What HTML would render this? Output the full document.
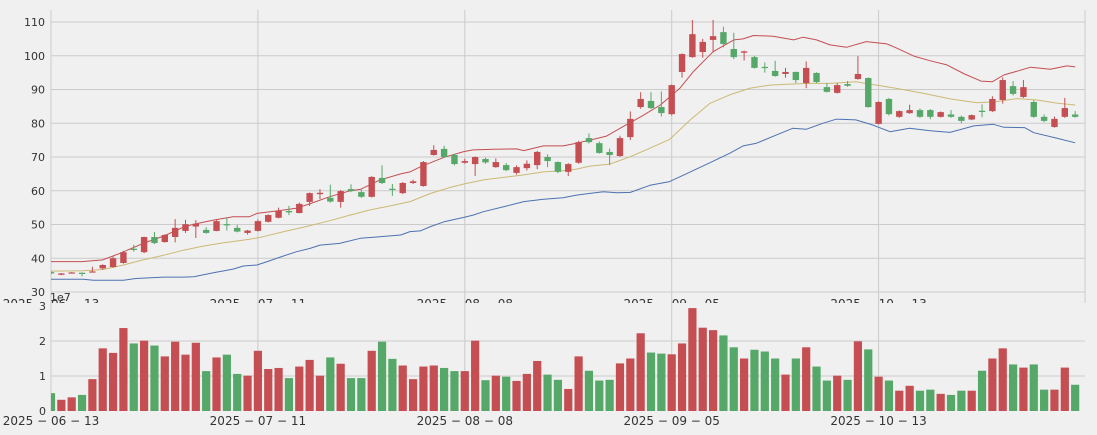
<!DOCTYPE html>
<html><head><meta charset="utf-8"><style>
html,body{margin:0;padding:0;background:#f0f0f0;}
svg{display:block;font-family:"DejaVu Sans","Liberation Sans",sans-serif;}
</style></head><body>
<svg id="chart" width="1097" height="435" viewBox="0 0 1097 435" xmlns="http://www.w3.org/2000/svg">
<rect x="0" y="0" width="1097" height="435" fill="#f0f0f0"/>
<defs>
<clipPath id="pc"><rect x="51" y="10" width="1034" height="282"/></clipPath>
<clipPath id="vc"><rect x="51" y="300" width="1034" height="111"/></clipPath>
</defs>
<g id="price-grid"></g>
<g id="price-plot" clip-path="url(#pc)"></g>
<g id="price-labels"></g>
<rect x="0" y="303" width="1097" height="132" fill="#f0f0f0"/>
<g id="vol-grid"></g>
<g id="vol-plot" clip-path="url(#vc)"></g>
<g id="vol-labels"></g>
</svg>
<script>
const dateLabels = ["2025 − 06 − 13","2025 − 07 − 11","2025 − 08 − 08","2025 − 09 − 05","2025 − 10 − 13"];
const dateTickIdx = [0,20,40,60,80];
const priceTicks = [30,40,50,60,70,80,90,100,110];
const volTicks = [0,1,2,3];
const opens = [35.9,35.1,35.6,35.7,35.9,37.0,37.4,38.6,42.8,41.8,46.3,44.8,46.3,48.1,49.4,48.4,48.1,50.1,49.0,47.5,48.1,50.8,52.0,54.0,53.4,56.7,59.0,57.9,56.7,60.5,59.6,58.2,63.8,60.6,59.3,62.3,61.4,70.6,72.4,70.6,68.3,67.9,69.4,67.0,67.6,65.3,66.7,67.6,70.0,68.5,65.6,68.3,75.6,74.1,71.5,70.3,75.9,84.8,86.6,84.8,82.7,95.2,99.6,101.1,104.7,107.0,102.0,100.9,99.6,96.7,95.5,94.6,95.2,91.9,94.9,90.7,89.0,91.6,93.1,93.4,79.8,87.2,81.9,83.0,83.9,83.9,81.9,82.6,81.9,81.1,83.7,83.6,86.9,91.0,87.8,86.3,81.9,78.9,81.9,82.6];
const closes = [35.5,35.5,35.8,35.6,36.1,38.0,40.0,41.8,42.6,46.3,44.5,46.9,49.0,50.1,50.2,47.5,51.0,50.0,47.9,48.2,51.0,52.8,54.0,53.6,56.1,59.3,59.4,56.8,59.9,59.9,58.2,64.1,62.3,60.4,62.3,62.8,68.5,72.1,70.0,67.9,68.8,70.0,68.4,68.5,66.1,67.0,68.0,71.5,68.8,65.6,67.9,74.4,74.4,71.2,70.6,75.6,81.3,87.2,84.5,83.0,91.3,100.5,106.4,104.1,105.8,103.5,99.6,101.3,96.4,96.4,94.0,95.2,92.8,96.4,92.2,89.3,91.3,91.1,94.6,84.8,86.3,82.7,83.6,83.9,81.9,81.9,83.3,81.9,80.7,82.4,83.6,87.2,92.8,88.7,90.7,81.9,80.7,81.3,84.5,81.9];
const highs = [36.3,35.6,35.9,35.8,37.5,38.2,40.5,42.2,44.0,46.4,47.8,47.1,51.6,51.4,51.3,49.2,51.3,51.9,49.9,48.4,51.5,53.0,55.0,55.5,56.5,59.5,60.5,61.8,60.2,61.9,60.3,64.3,67.5,62.0,62.6,63.3,68.8,73.5,73.3,71.0,69.5,70.2,69.8,69.6,68.2,67.5,69.0,71.8,70.8,68.7,68.2,74.8,77.0,74.6,72.5,76.3,83.5,89.2,89.2,89.4,91.5,100.7,110.6,105.0,110.6,108.6,106.8,101.5,100.0,98.0,98.5,96.4,95.3,98.3,95.1,91.9,91.9,92.5,99.9,93.6,86.5,87.5,83.8,85.5,84.4,84.2,83.5,83.9,82.3,82.6,85.6,88.0,93.6,92.5,92.8,86.8,82.6,82.0,87.5,83.6];
const lows = [35.2,35.0,35.5,34.6,35.8,36.6,37.2,38.4,42.0,41.5,44.2,44.6,44.7,47.5,46.0,47.3,48.0,48.2,47.7,47.0,47.9,50.6,51.8,52.8,53.3,55.5,57.5,56.5,55.0,59.6,57.9,58.0,62.0,58.5,59.0,62.0,61.2,70.4,69.8,67.5,68.0,64.4,68.0,66.8,65.8,64.8,66.0,66.4,67.0,65.2,64.4,68.0,74.0,71.0,67.6,70.0,75.0,84.3,84.2,82.0,82.3,93.5,99.4,99.4,101.0,102.5,99.0,98.6,96.2,95.0,93.8,93.5,91.9,90.4,91.9,89.1,88.8,90.8,92.9,84.6,79.6,82.3,81.6,82.8,81.6,81.2,81.7,81.6,80.0,80.9,81.8,83.3,85.8,88.2,87.5,81.6,80.3,78.7,81.6,81.6];
const volumes = [0.51,0.32,0.39,0.46,0.91,1.79,1.66,2.37,1.93,2.01,1.87,1.56,1.98,1.61,1.95,1.14,1.53,1.61,1.06,1.01,1.72,1.20,1.23,0.94,1.27,1.46,1.01,1.53,1.35,0.94,0.94,1.72,1.98,1.49,1.30,0.91,1.27,1.30,1.23,1.14,1.14,2.01,0.88,1.01,0.98,0.86,1.06,1.43,1.04,0.89,0.63,1.56,1.15,0.87,0.89,1.36,1.50,2.22,1.67,1.64,1.62,1.93,2.94,2.38,2.31,2.16,1.82,1.50,1.75,1.70,1.50,1.04,1.50,1.82,1.27,0.87,1.01,0.89,1.99,1.76,0.98,0.87,0.58,0.72,0.58,0.61,0.49,0.46,0.58,0.58,1.15,1.50,1.79,1.33,1.24,1.33,0.61,0.61,1.24,0.75];

const upperIdx = [0,3,5,6.7,8.9,10.9,12.8,13.8,15.7,17.6,19.2,19.9,21.8,23.7,25.0,26.9,28.9,29.9,31.8,33.8,34.7,35.7,38.0,39.9,40.8,42.8,45.0,45.7,47.6,49.5,50.8,52.1,53.7,55.3,57.0,58.9,60.8,62.1,64.0,66.0,66.9,67.9,69.8,71.8,72.7,74.0,75.3,76.9,78.8,80.8,81.8,83.4,85.0,86.6,88.3,89.9,91.0,92.1,94.7,96.6,98.2,99.0];
const upperBand = [39.0,39.0,39.5,41.5,44.4,46.6,49.2,50.1,51.3,52.3,52.3,53.3,54.0,54.8,56.1,58.2,60.0,60.4,63.2,65.0,65.6,67.1,69.9,71.6,72.1,72.3,72.4,71.9,73.3,73.3,74.1,75.0,76.2,79.0,81.9,85.4,90.4,95.3,101.2,104.7,105.0,106.0,105.8,104.7,105.5,104.7,103.2,102.5,104.2,103.5,102.2,99.9,98.5,97.3,94.6,92.5,92.3,94.3,96.6,96.0,97.0,96.7];
const midIdx = [0,3.1,5.1,7,8.9,10.9,12.8,14.7,16.7,19.2,20.5,22.5,24.4,26.9,28.9,30.8,32.8,34.7,36.7,38.6,39.9,41.8,43.8,45.7,47.6,49.5,50.8,52.1,54,56,57.9,59.8,61.8,63.7,65.6,67.6,69.5,71.4,73.4,75.3,77.8,79.8,81.8,84.3,86.9,89.5,91.4,93.4,95.3,97.3,99];
const midBand = [36.2,36.3,36.7,38.0,39.5,40.9,42.4,43.6,44.6,45.6,46.4,47.9,49.2,51.1,52.8,54.3,55.5,56.8,59.2,61.0,62.0,63.2,64.0,64.7,65.6,65.9,66.4,67.3,67.9,70.1,72.6,75.2,81.0,85.9,88.4,90.4,91.3,91.6,91.8,91.8,92.3,91.3,90.3,88.9,87.2,86.1,86.4,87.3,86.9,85.9,85.4];
const lowerIdx = [0,3.1,4.1,7,8.2,10.9,12.8,13.8,15.7,17.6,18.6,19.9,20.9,22.5,23.7,25,26,27.9,29.9,31.8,33.8,34.7,35.7,36.7,38,39.9,40.8,41.8,43.8,45.7,47.6,49.5,50.8,52.1,53.4,54.7,56,57.9,59.8,61.8,63.7,65.6,66.9,68.2,70.1,71.7,73,74.6,75.9,76.2,77.8,79.4,81.1,83,85,86.9,89.2,91.1,92.1,94.1,95,97.3,99];
const lowerBand = [33.8,33.8,33.5,33.5,34.0,34.4,34.4,34.5,35.7,36.8,37.7,38.0,39.0,40.7,41.9,42.9,43.9,44.4,45.9,46.4,46.9,47.9,48.1,49.4,50.8,52.1,52.8,53.8,55.3,56.8,57.5,57.9,58.7,59.2,59.7,59.4,59.5,61.6,62.7,65.6,68.3,71.1,73.3,74.1,76.5,78.5,78.2,80.0,81.2,81.2,81.0,79.5,77.5,78.5,77.8,77.3,79.2,79.7,78.8,78.7,77.2,75.5,74.2];

const RED="#c44e52", GREEN="#55a868", GRID="#cbcbcb", TXT="#333333";
const NS="http://www.w3.org/2000/svg";
const xs = i => 51 + 10.345*i;
const yp = v => 292 - (v-30)*3.375;
const yv = v => 411 - v*35;
function mk(tag, attrs, parent){const e=document.createElementNS(NS,tag);for(const k in attrs)e.setAttribute(k,attrs[k]);parent.appendChild(e);return e;}
const pg=document.getElementById('price-grid'), pp=document.getElementById('price-plot'), pl=document.getElementById('price-labels');
const vg=document.getElementById('vol-grid'), vp=document.getElementById('vol-plot'), vl=document.getElementById('vol-labels');

priceTicks.forEach(t=>{
  const l=mk('line',{x1:51,x2:1085,y1:yp(t),y2:yp(t),stroke:GRID,'stroke-width':1},pg);
  
  
  const tx=mk('text',{x:45,y:yp(t)+4,'text-anchor':'end','font-size':11,fill:TXT},pl);
  tx.textContent=String(t);
  
  
});
dateTickIdx.forEach((d,k)=>{
  const l=mk('line',{x1:xs(d),x2:xs(d),y1:10,y2:292,stroke:GRID,'stroke-width':1},pg);
  
  
  const tx=mk('text',{x:xs(d),y:308,'text-anchor':'middle','font-size':12,fill:TXT},pl);
  tx.textContent=dateLabels[k];
  
  
  const l2=mk('line',{x1:xs(d),x2:xs(d),y1:292,y2:411,stroke:GRID,'stroke-width':1},vg);
  
  
  const t2=mk('text',{x:xs(d),y:425,'text-anchor':'middle','font-size':12,fill:TXT},vl);
  t2.textContent=dateLabels[k];
  
  
});
const rb=mk('line',{x1:1085,x2:1085,y1:10,y2:411,stroke:GRID,'stroke-width':1},pg);



[[upperIdx,upperBand,RED,'upper-band'],[midIdx,midBand,"#ccb974",'middle-band'],[lowerIdx,lowerBand,"#4c72b0",'lower-band']].forEach(([idx,arr,col,name])=>{
  const pts=arr.map((v,k)=>xs(idx[k]).toFixed(1)+','+yp(v).toFixed(1)).join(' ');
  const pl2=mk('polyline',{points:pts,fill:'none',stroke:col,'stroke-width':1,'stroke-linejoin':'round'},pp);
  
  
});
opens.forEach((o,i)=>{
  const c=closes[i], up=c>=o, col=up?RED:GREEN, x=xs(i);
  const w=mk('line',{x1:x,x2:x,y1:yp(highs[i]),y2:yp(lows[i]),stroke:col,'stroke-width':1},pp);
  
  
  const top=yp(Math.max(o,c)), h=Math.max(1.2,Math.abs(yp(o)-yp(c)));
  const b=mk('rect',{x:x-3.2,y:top,width:6.4,height:h,fill:col},pp);
  
  
});
volTicks.forEach(t=>{
  if(t>0&&t<3){
    const l=mk('line',{x1:51,x2:1085,y1:yv(t),y2:yv(t),stroke:GRID,'stroke-width':1},vg);
    
    
  }
  const tx=mk('text',{x:46,y:yv(t)+4,'text-anchor':'end','font-size':11,fill:TXT},vl);
  tx.textContent=String(t);
  
  
});
const ex=mk('text',{x:50,y:301,'font-size':11,fill:TXT},vl);
ex.textContent='1e7';


volumes.forEach((v,i)=>{
  const col=closes[i]>=opens[i]?RED:GREEN;
  const b=mk('rect',{x:xs(i)-4.1,y:yv(v),width:8.2,height:v*35,fill:col},vp);
  
  
});
</script>
</body></html>
